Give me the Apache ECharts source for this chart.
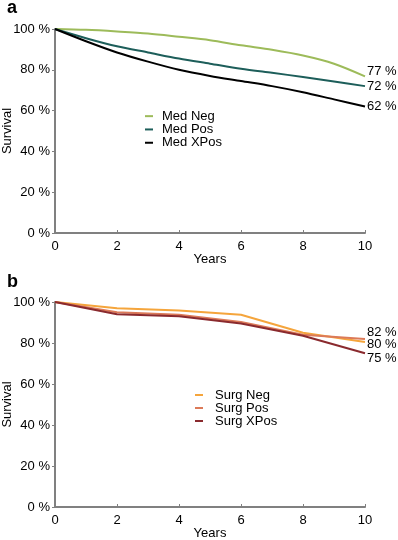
<!DOCTYPE html>
<html><head><meta charset="utf-8">
<script src="https://cdn.jsdelivr.net/npm/echarts@6/dist/echarts.min.js"></script>
<style>html,body{margin:0;padding:0;background:#fff}#c{width:398px;height:540px}</style>
</head><body><div id="c"></div>
<script>
var years = [0,1,2,3,4,5,6,7,8,9,10];
var medNeg  = [100,99.6,98.8,97.8,96.2,94.5,92,89.8,87,83,76.8];
var medPos  = [100,95.5,91.5,88.5,85.5,83,80.5,78.5,76.5,74.3,72];
var medXPos = [100,94,88.5,84,80,77,74.5,72,69,65.5,62];
var surgYears = [0,2,4,6,8,10];
var surgNeg  = [100,97,95.8,93.8,85,80.5];
var surgPos  = [100,95,93.8,90.2,84,82];
var surgXPos = [100,94,93,89.5,83.5,75];
var endA = ['77 %','72 %','62 %'];
var endB = ['80 %','82 %','75 %'];
var namesA = ['Med Neg','Med Pos','Med XPos'];
var namesB = ['Surg Neg','Surg Pos','Surg XPos'];

var FONT = 'Liberation Sans';
function pairs(xs, ys){ return xs.map(function(x,i){return [x, ys[i]];}); }
function xAxis(idx){
  return {type:'value', gridIndex:idx, min:0, max:10, interval:2, name:'Years', nameLocation:'middle', nameGap:20,
    nameMoveOverlap:false,
    nameTextStyle:{color:'#000', fontSize:13, fontFamily:FONT},
    axisLine:{lineStyle:{color:'#808080', width:2}},
    axisTick:{inside:true, length:3, lineStyle:{color:'#808080'}},
    axisLabel:{color:'#000', fontSize:13, fontFamily:FONT, margin:7},
    splitLine:{show:false}};
}
function yAxis(idx){
  return {type:'value', gridIndex:idx, min:0, max:100, interval:20, name:'Survival', nameLocation:'middle', nameGap:41,
    nameMoveOverlap:false,
    nameTextStyle:{color:'#000', fontSize:13, fontFamily:FONT},
    axisLine:{show:true, lineStyle:{color:'#808080', width:2}},
    axisTick:{show:true, inside:false, length:3, lineStyle:{color:'#808080'}},
    axisLabel:{color:'#000', fontSize:13, fontFamily:FONT, margin:5, formatter:'{value} %'},
    splitLine:{show:false}};
}
function ser(name, data, color, idx, smooth, label, off){
  return {type:'line', name:name, xAxisIndex:idx, yAxisIndex:idx, data:data, smooth:smooth, showSymbol:false, symbol:'none',
    lineStyle:{color:color, width:2}, itemStyle:{color:color},
    endLabel:{show:true, formatter:label, color:'#000', fontSize:13, fontFamily:FONT, distance:2, offset:[0,off]},
    animation:false};
}
var chart = echarts.init(document.getElementById('c'), null, {renderer:'canvas'});
chart.setOption({
  animation:false,
  grid:[{left:55, top:29, width:310, height:204, containLabel:false, outerBoundsMode:'none'},
        {left:55, top:302, width:310, height:205, containLabel:false, outerBoundsMode:'none'}],
  xAxis:[xAxis(0), xAxis(1)],
  yAxis:[yAxis(0), yAxis(1)],
  legend:[
    {data:namesA, orient:'vertical', left:145, top:109.5, padding:0, itemWidth:8, itemHeight:2, itemGap:0, icon:'rect',
     textStyle:{color:'#000', fontSize:13, fontFamily:FONT, lineHeight:13.3, padding:[0,0,0,4]}},
    {data:namesB, orient:'vertical', left:195, top:388.5, padding:0, itemWidth:8, itemHeight:2, itemGap:0, icon:'rect',
     textStyle:{color:'#000', fontSize:13, fontFamily:FONT, lineHeight:12.9, padding:[0,0,0,7]}}
  ],
  graphic:[
    {type:'text', x:7, y:8.5, style:{text:'a', font:'bold 18px "Liberation Sans"', fill:'#000', verticalAlign:'middle'}},
    {type:'text', x:7, y:282.5, style:{text:'b', font:'bold 18px "Liberation Sans"', fill:'#000', verticalAlign:'middle'}}
  ],
  series:[
    ser(namesA[0], pairs(years, medNeg), '#9dbb5a', 0, 0.3, endA[0], -5),
    ser(namesA[1], pairs(years, medPos), '#1d5e5a', 0, 0.3, endA[1], 0),
    ser(namesA[2], pairs(years, medXPos), '#000000', 0, 0.3, endA[2], 0),
    ser(namesB[0], pairs(surgYears, surgNeg), '#f5a53c', 1, false, endB[0], 2),
    ser(namesB[1], pairs(surgYears, surgPos), '#dc7a58', 1, false, endB[1], -6),
    ser(namesB[2], pairs(surgYears, surgXPos), '#8a2a2e', 1, false, endB[2], 5)
  ]
});
</script></body></html>
